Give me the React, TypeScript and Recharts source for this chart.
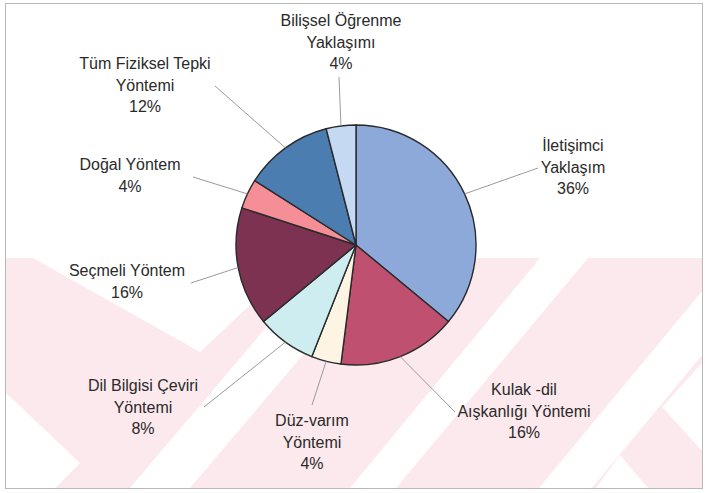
import { PieChart, Pie, Cell } from "recharts";

// slices, clockwise from 12 o'clock
const categories = [
    "İletişimci Yaklaşım",
    "Kulak -dil Aışkanlığı Yöntemi",
    "Düz-varım Yöntemi",
    "Dil Bilgisi Çeviri Yöntemi",
    "Seçmeli Yöntem",
    "Doğal Yöntem",
    "Tüm Fiziksel Tepki Yöntemi",
    "Bilişsel Öğrenme Yaklaşımı",
];
const shares = [36, 16, 4, 8, 16, 4, 12, 4];
const labelLines = [
    ["İletişimci", "Yaklaşım"],
    ["Kulak -dil", "Aışkanlığı Yöntemi"],
    ["Düz-varım", "Yöntemi"],
    ["Dil Bilgisi  Çeviri", "Yöntemi"],
    ["Seçmeli Yöntem"],
    ["Doğal Yöntem"],
    ["Tüm Fiziksel Tepki", "Yöntemi"],
    ["Bilişsel Öğrenme", "Yaklaşımı"],
];
const colors = ["#8DA9DA", "#C0506F", "#FDF4E3", "#CDEDF0", "#7D3252", "#F58E96", "#4B7DB0", "#C5DAF2"];

// label placement relative to pie centre: text centre / first baseline, leader end
const labelLayout = [
    { tx: 217, ty: -94, ex: 182, ey: -77 },
    { tx: 168, ty: 150, ex: 99, ey: 167 },
    { tx: -44, ty: 181, ex: -44, ey: 160 },
    { tx: -213, ty: 146, ex: -152, ey: 162 },
    { tx: -229, ty: 31, ex: -165, ey: 38 },
    { tx: -226, ty: -75, ex: -163, ey: -68 },
    { tx: -211, ty: -176, ex: -141, ey: -159 },
    { tx: -15, ty: -219, ex: -17, ey: -168 },
];

// faint scanned watermark behind the chart (pink field with white stripes)
const stripes = [
    "33,258 300,258 200,352",
    "130,488 190,488 385,258 325,258",
    "350,488 396,488 588,258 540,258",
    "539,488 592,488 703,354 703,290",
    "5,392 80,463 55,488 5,488",
    "703,362 662,407 703,452",
    "596,488 620,455 648,488",
];

const data = categories.map((name, i) => ({ name, value: shares[i] }));

const RAD = Math.PI / 180;
const LINE_H = 21.5;

function renderLabel(props: any) {
    const { cx, cy, midAngle, outerRadius, index, value } = props;
    const lay = labelLayout[index];
    const sx = cx + outerRadius * Math.cos(-midAngle * RAD);
    const sy = cy + outerRadius * Math.sin(-midAngle * RAD);
    const lines = [...labelLines[index], `${value}%`];
    return (
        <g key={`lbl-${index}`}>
            <line x1={sx} y1={sy} x2={cx + lay.ex} y2={cy + lay.ey} stroke="#9a9a9a" strokeWidth={1} />
            <text
                x={cx + lay.tx}
                y={cy + lay.ty}
                textAnchor="middle"
                fill="#2a2a2a"
                fontFamily="'Liberation Sans', Arial, sans-serif"
                fontSize={16}
            >
                {lines.map((t, j) => (
                    <tspan key={j} x={cx + lay.tx} dy={j === 0 ? 0 : LINE_H}>
                        {t}
                    </tspan>
                ))}
            </text>
        </g>
    );
}

export default function App() {
    return (
        <div style={{ position: "absolute", left: 0, top: 0, width: 705, height: 493, background: "#fff" }}>
            <svg width={705} height={493} style={{ position: "absolute", left: 0, top: 0 }}>
                <rect x={5} y={258} width={698} height={230} fill="#fce9ed" />
                {stripes.map((p) => (
                    <polygon key={p} points={p} fill="#ffffff" />
                ))}
                <rect x={5.5} y={3.5} width={697} height={485} fill="none" stroke="#b8b8b8" />
            </svg>
            <div style={{ position: "absolute", left: 0, top: 0 }}>
                <PieChart width={705} height={493} margin={{ top: 0, right: 0, bottom: 0, left: 0 }}>
                    <Pie
                        data={data}
                        dataKey="value"
                        nameKey="name"
                        cx={356}
                        cy={245}
                        outerRadius={120}
                        startAngle={90}
                        endAngle={-270}
                        stroke="#2a2a2a"
                        strokeWidth={1.4}
                        label={renderLabel}
                        labelLine={false}
                        isAnimationActive={false}
                    >
                        {data.map((d, i) => (
                            <Cell key={d.name} fill={colors[i]} />
                        ))}
                    </Pie>
                </PieChart>
            </div>
        </div>
    );
}
